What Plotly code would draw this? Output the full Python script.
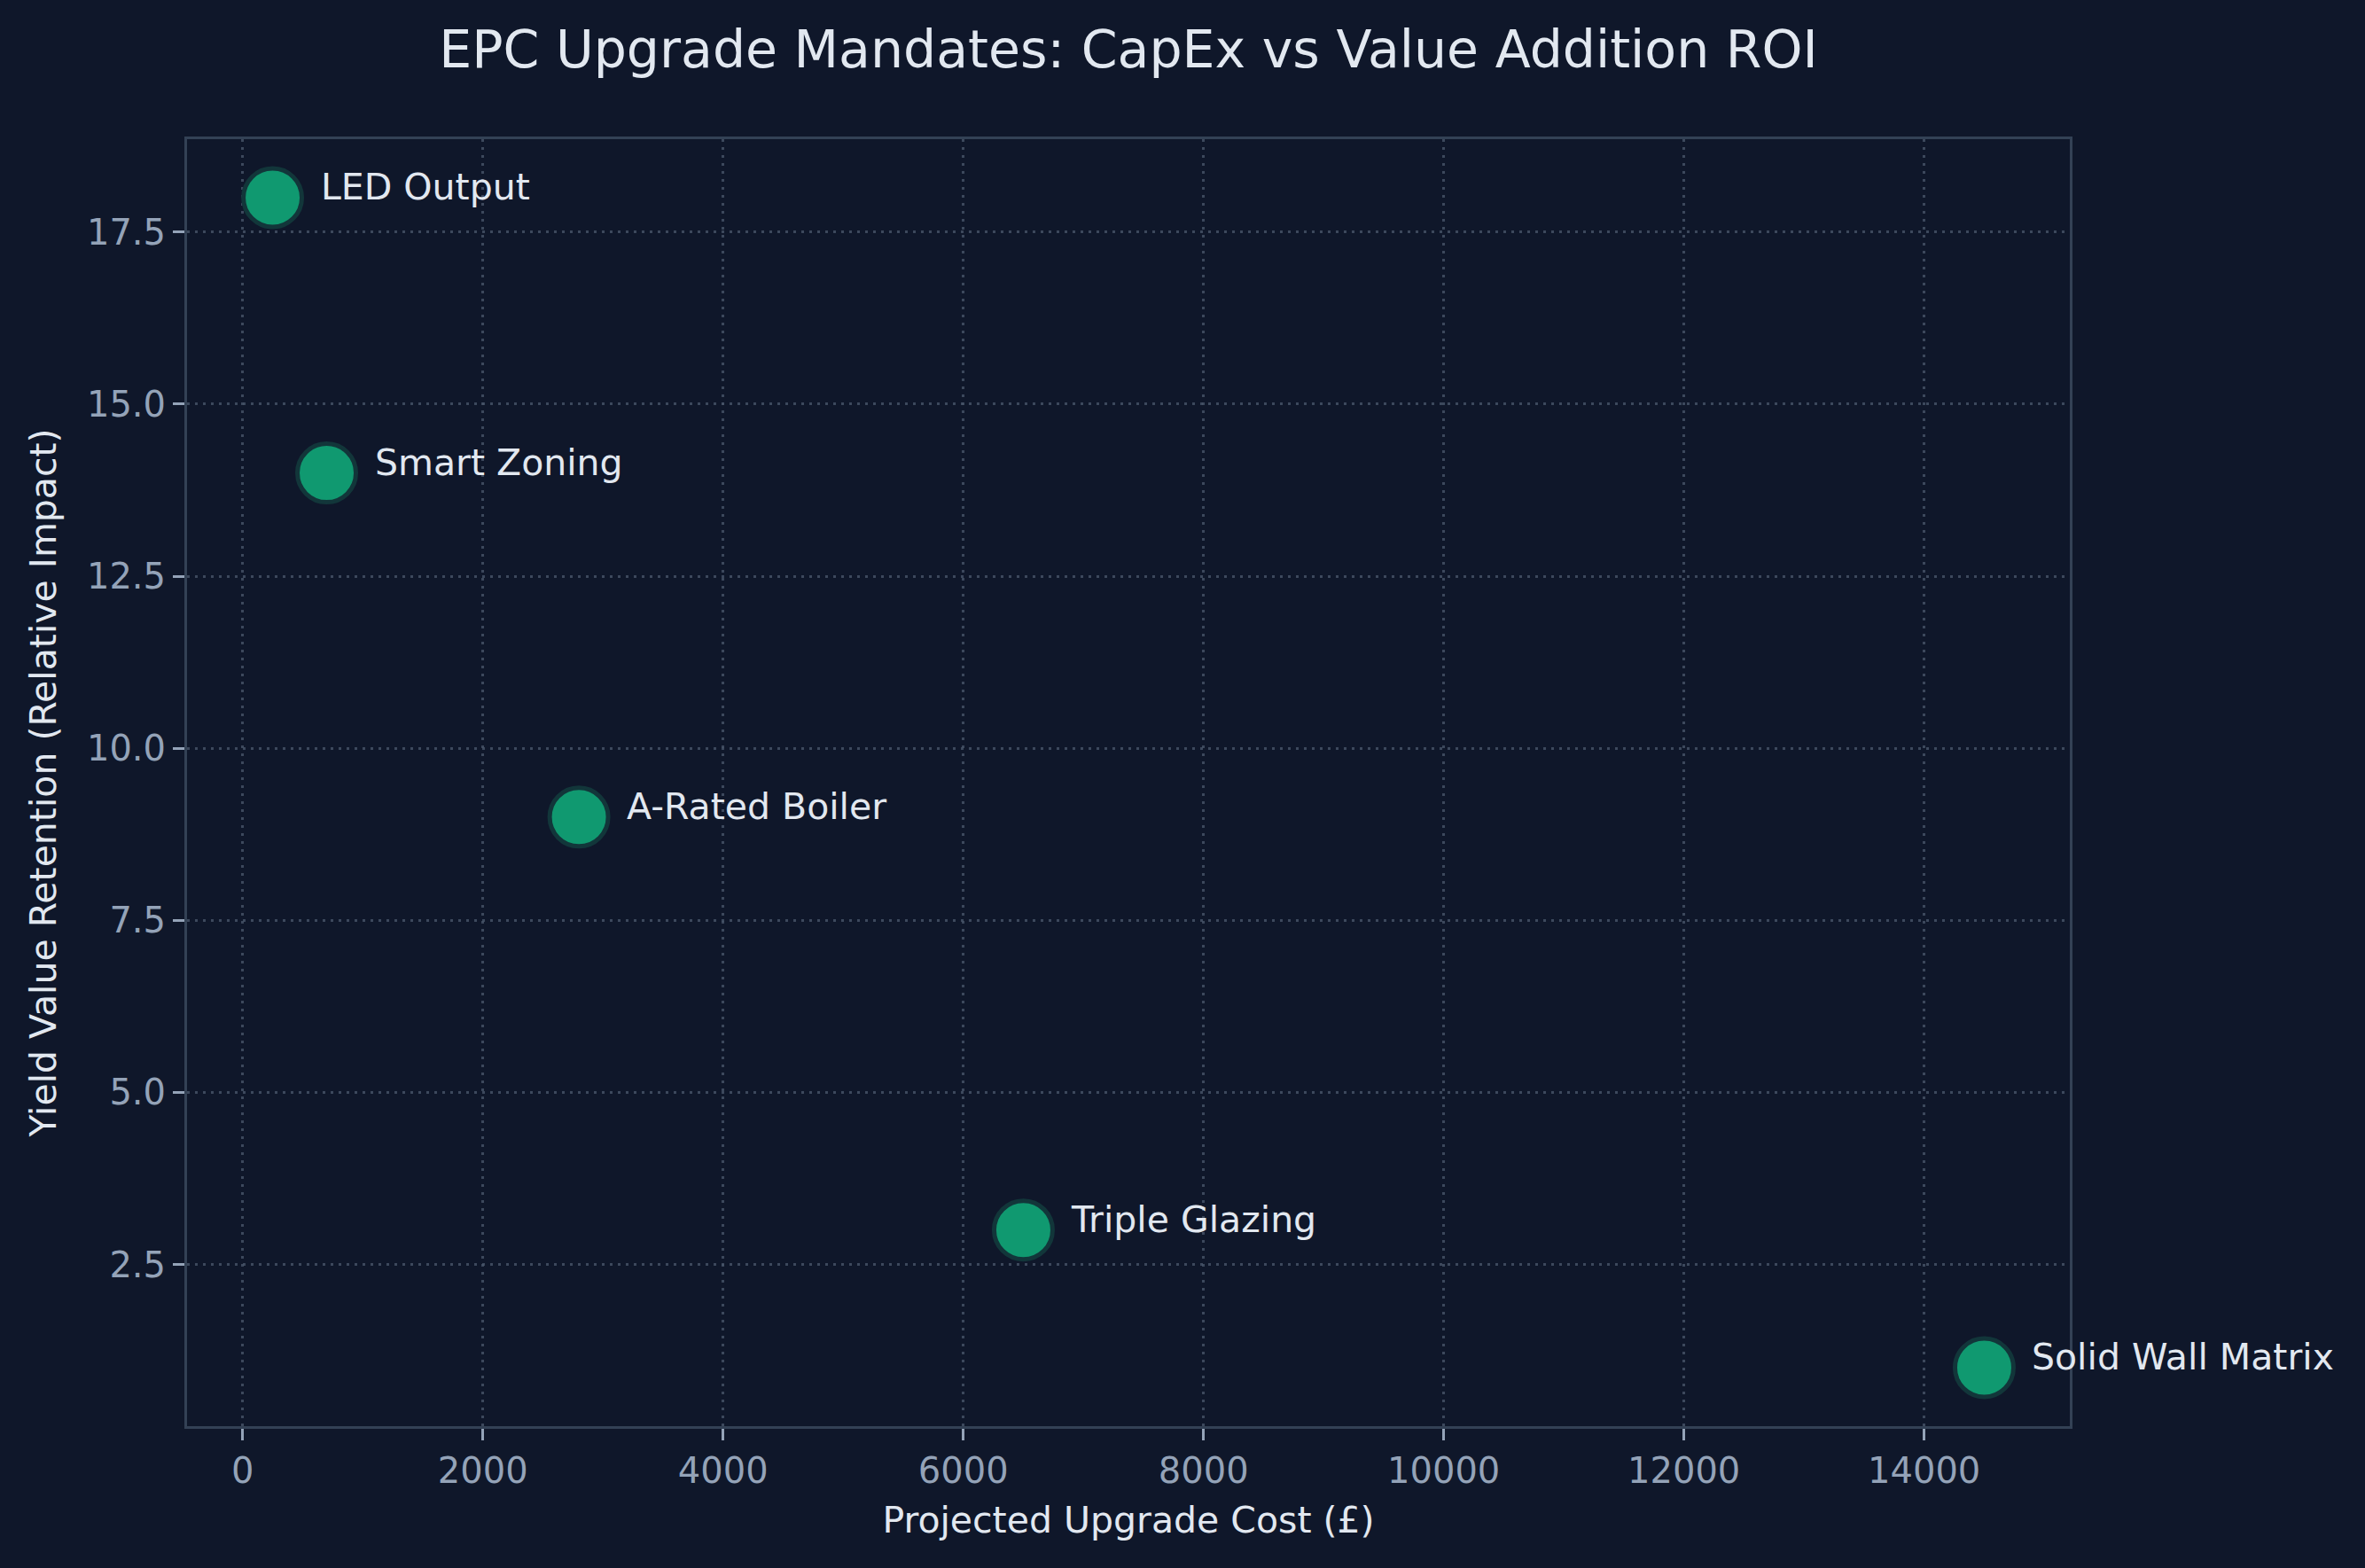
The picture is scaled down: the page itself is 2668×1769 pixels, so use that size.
import plotly.graph_objects as go

upgrades = ["LED Output", "Smart Zoning", "A-Rated Boiler", "Triple Glazing", "Solid Wall Matrix"]
cost_gbp = [250, 700, 2800, 6500, 14500]
yield_retention = [18, 14, 9, 3, 1]

x_ticks = [0, 2000, 4000, 6000, 8000, 10000, 12000, 14000]
y_ticks = [2.5, 5.0, 7.5, 10.0, 12.5, 15.0, 17.5]

BG = "#0f172a"
TEXT = "#e2e8f0"
TICK = "#94a3b8"
SPINE = "#334155"
GRID = "rgba(71,85,105,0.8)"
FONT = "DejaVu Sans"

W, H = 2668, 1769
L, R, T, B = 211, 2335, 157, 1609

fig = go.Figure()
fig.add_trace(go.Scatter(
    x=cost_gbp, y=yield_retention, mode="markers",
    marker=dict(size=66, color="#109970", line=dict(color="#12363a", width=5)),
    hoverinfo="skip", showlegend=False,
))

for name, xv, yv in zip(upgrades, cost_gbp, yield_retention):
    fig.add_annotation(
        x=xv, y=yv, xref="x", yref="y", text=name, showarrow=False,
        xanchor="left", yanchor="middle", xshift=52, yshift=12,
        font=dict(family=FONT, size=41, color=TEXT),
    )

xmin, xmax = min(cost_gbp), max(cost_gbp)
ymin, ymax = min(yield_retention), max(yield_retention)
xm = 0.05 * (xmax - xmin)
ym = 0.05 * (ymax - ymin)

axis_common = dict(
    showline=True, linecolor=SPINE, linewidth=3, mirror=True,
    showgrid=True, gridcolor=GRID, griddash="3px,6px", gridwidth=2.5,
    zeroline=False, ticks="outside", ticklen=13, tickwidth=3, tickcolor=TICK,
    tickfont=dict(family=FONT, size=40, color=TICK),
)

fig.update_layout(
    width=W, height=H,
    paper_bgcolor=BG, plot_bgcolor=BG,
    margin=dict(l=L, r=W - R, t=T, b=H - B),
    font=dict(family=FONT, color=TEXT),
    title=dict(text="EPC Upgrade Mandates: CapEx vs Value Addition ROI",
               font=dict(family=FONT, size=58.5, color=TEXT),
               x=(L + R) / 2 / W, xanchor="center", xref="container",
               y=1 - 56 / H, yanchor="middle", yref="container"),
    xaxis=dict(range=[xmin - xm, xmax + xm], tickvals=x_ticks,
               ticktext=[str(v) for v in x_ticks],
               title=dict(text="Projected Upgrade Cost (£)", standoff=20,
                          font=dict(family=FONT, size=41, color=TEXT)),
               **axis_common),
    yaxis=dict(range=[ymin - ym, ymax + ym], tickvals=y_ticks,
               ticktext=[f"{v:.1f}" for v in y_ticks],
               title=dict(text="Yield Value Retention (Relative Impact)", standoff=22,
                          font=dict(family=FONT, size=41, color=TEXT)),
               **axis_common),
)

fig.write_html("out.html")
